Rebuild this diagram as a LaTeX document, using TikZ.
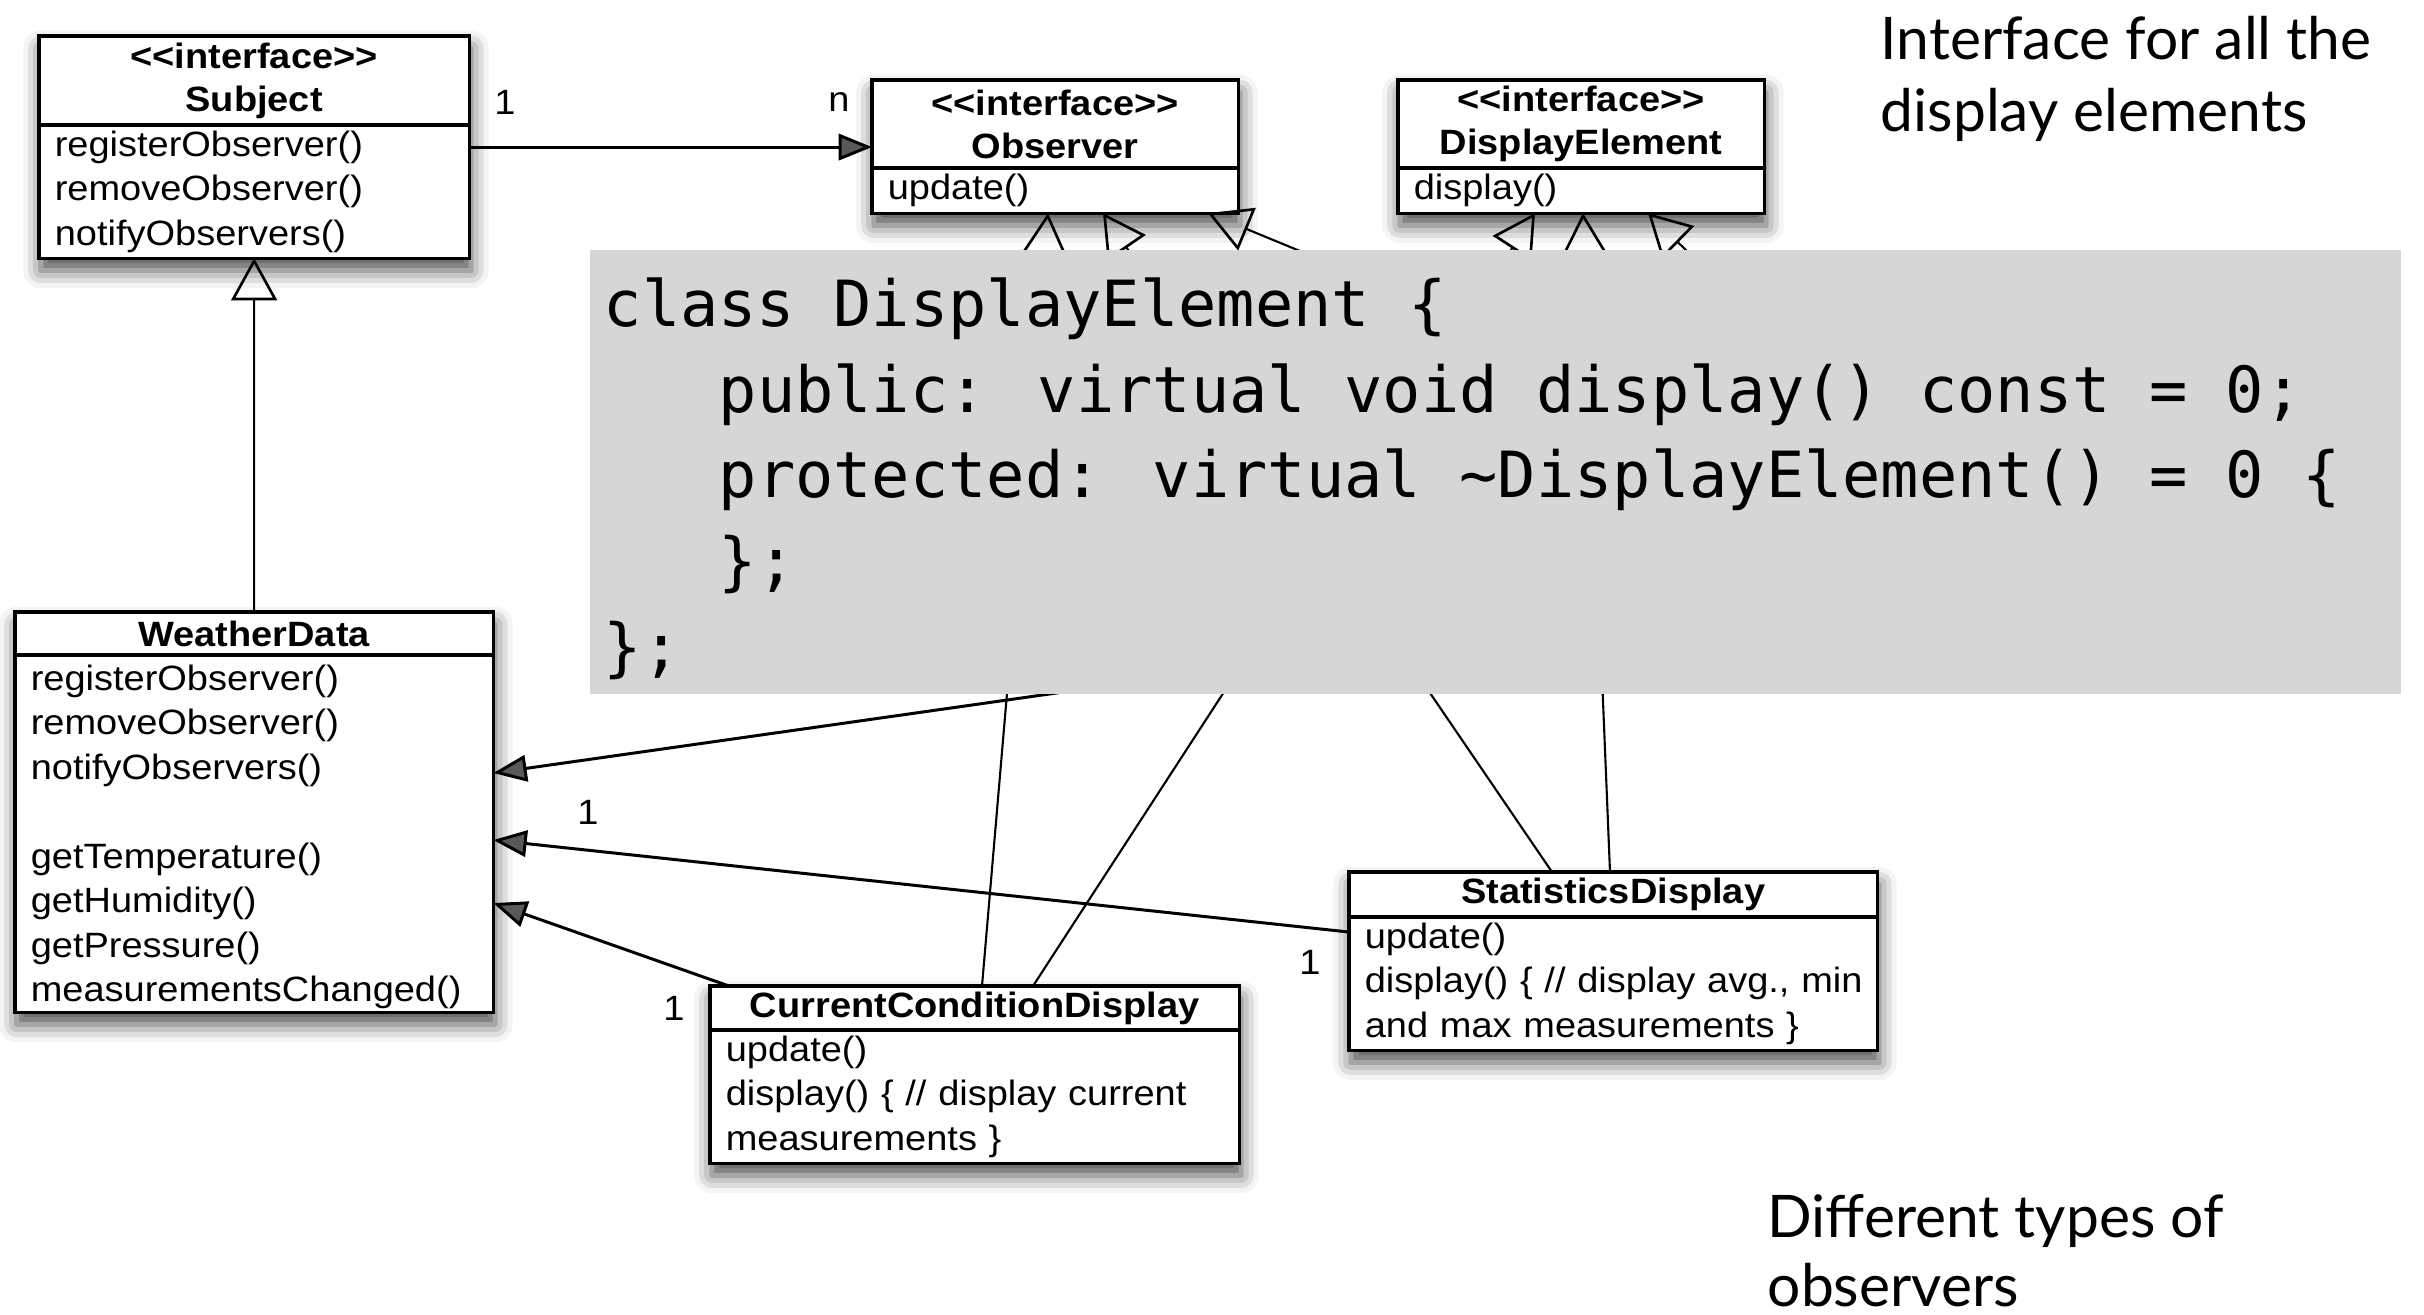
\documentclass[tikz,border=0pt]{standalone}
\usepackage{fontspec}
\setmainfont{Liberation Sans}[FakeStretch=1.08]
\newfontfamily\codefont{DejaVu Sans Mono}
\newfontfamily\notefont{Lato}
\usetikzlibrary{arrows.meta,calc,shadows.blur}
\pgfdeclarelayer{background}
\pgfsetlayers{background,main}
\definecolor{codegray}{RGB}{214,214,214}
\newcommand{\stereo}{\textless\kern0pt\textless interface\textgreater\kern0pt\textgreater}
\tikzset{
  hd/.style={draw, line width=0.9pt, fill=white, inner sep=0pt, outer sep=0pt, align=center, anchor=north west, font=\bfseries\fontsize{10}{12.2}\selectfont},
  bd/.style={draw, line width=0.9pt, fill=white, inner xsep=4.5pt, inner ysep=0pt, outer sep=0pt, align=left, anchor=north west, font=\fontsize{10}{12.66}\selectfont},
  assoc/.style={line width=0.85pt, -{Triangle[length=9.5pt,width=7.5pt]}},
  realize/.style={line width=0.6pt, -{Triangle[open,length=12pt,width=13pt,line width=0.75pt]}},
  mult/.style={inner sep=0pt, font=\fontsize{10}{12}\selectfont},
  codeline/.style={inner sep=0pt, anchor=base west, font=\codefont\fontsize{18.1}{24}\selectfont},
  note/.style={inner sep=0pt, anchor=base west, font=\notefont\fontsize{16.7}{20}\selectfont},
  shadebox/.style={fill=white, blur shadow={shadow xshift=0.5pt, shadow yshift=-3.5pt, shadow blur radius=5pt, shadow opacity=70}},
}
\begin{document}
\begin{tikzpicture}[x=0.01cm, y=-0.01cm]
\useasboundingbox (0,0) rectangle (2424,1314);

% classes
\node[hd, text width=4.30cm, minimum height=0.89cm] (subjH) at (39,36) {\stereo\\Subject};
\node[bd, text width=3.984cm, minimum height=1.33cm] (subjB) at (subjH.south west) {registerObserver()\\removeObserver()\\notifyObservers()};

\node[hd, text width=3.66cm, minimum height=0.88cm] (obsH) at (872,80) {\stereo\\Observer};
\node[bd, text width=3.344cm, minimum height=0.45cm] (obsB) at (obsH.south west) {update()};

\node[hd, text width=3.66cm, minimum height=0.88cm] (delH) at (1398,80) {\stereo\\DisplayElement};
\node[bd, text width=3.344cm, minimum height=0.45cm] (delB) at (delH.south west) {display()};

\node[hd, text width=4.78cm, minimum height=0.43cm] (wdH) at (15,612) {WeatherData};
\node[bd, text width=4.464cm, minimum height=3.57cm] (wdB) at (wdH.south west) {\rule{0pt}{9pt}registerObserver()\\removeObserver()\\notifyObservers()\\[12.66pt]getTemperature()\\getHumidity()\\getPressure()\\measurementsChanged()};

\node[hd, text width=5.29cm, minimum height=0.44cm] (ccdH) at (710,986) {CurrentConditionDisplay};
\node[bd, text width=4.974cm, minimum height=1.33cm] (ccdB) at (ccdH.south west) {update()\\\mbox{display() \{ // display current}\\measurements \}};

\node[hd, text width=5.28cm, minimum height=0.45cm] (sdH) at (1349,872) {StatisticsDisplay};
\node[bd, text width=4.964cm, minimum height=1.33cm] (sdB) at (sdH.south west) {update()\\\mbox{display() \{ // display avg., min}\\\mbox{and max measurements \}}};

\begin{pgfonlayer}{background}
\foreach \n in {subj,obs,del,wd,ccd,sd}
  \path[shadebox] (\n H.north west) rectangle (\n B.south east);
\end{pgfonlayer}

% Subject -> Observer
\coordinate (s1) at ($(subjB.north east)+(0,22)$);
\draw[assoc] (s1) -- (s1 -| obsH.west);
\node[mult] (m1) at (505,102) {1};
\node[mult] (m2) at (839,102) {n};

% generalization
\draw[realize] (wdH.north) -- (subjB.south);

% hidden ends (under the code box)
\coordinate (hidR) at (1971,528);
\coordinate (hidA) at (1971,563);

% realizations
\draw[realize] ($(ccdH.north west)+(272,0)$) -- ($(obsB.south west)+(176,0)$);
\draw[realize] ($(ccdH.north west)+(323,0)$) -- ($(delB.south west)+(137,0)$);
\draw[realize] ($(sdH.north west)+(203,0)$) -- ($(obsB.south west)+(231,0)$);
\draw[realize] ($(sdH.north west)+(261,0)$) -- ($(delB.south west)+(185,0)$);
\draw[realize] (hidR) -- ($(obsB.south west)+(336,0)$);
\draw[realize] (hidR) -- ($(delB.south west)+(250,0)$);

% associations to WeatherData
\draw[assoc] (hidA) -- ($(wdB.north east)+(0,118)$);
\draw[assoc] ($(sdB.north west)+(0,15)$) -- ($(wdB.north east)+(0,185)$);
\draw[assoc] ($(ccdH.north west)+(19,0)$) -- ($(wdB.north east)+(0,248)$);
\node[mult] (m3) at (588,812) {1};
\node[mult] (m4) at (1310,962) {1};
\node[mult] (m5) at (674,1008) {1};

% code box
\fill[codegray] (590,250) rectangle (2401,694);
\node[codeline] (c1) at (603,326) {class DisplayElement \{};
\node[codeline] (c2) at (718,412) {public: virtual void display() const = 0;};
\node[codeline] (c3) at (718,497) {protected: virtual \textasciitilde DisplayElement() = 0 \{};
\node[codeline] (c4) at (718,583) {\};};
\node[codeline] (c5) at (603,669) {\};};

% notes
\node[note] (n1) at (1880,59) {Interface for all the};
\node[note] (n2) at (1880,131) {display elements};
\node[note] (n3) at (1767,1237) {Different types of};
\node[note] (n4) at (1767,1306) {observers};
\end{tikzpicture}
\end{document}
